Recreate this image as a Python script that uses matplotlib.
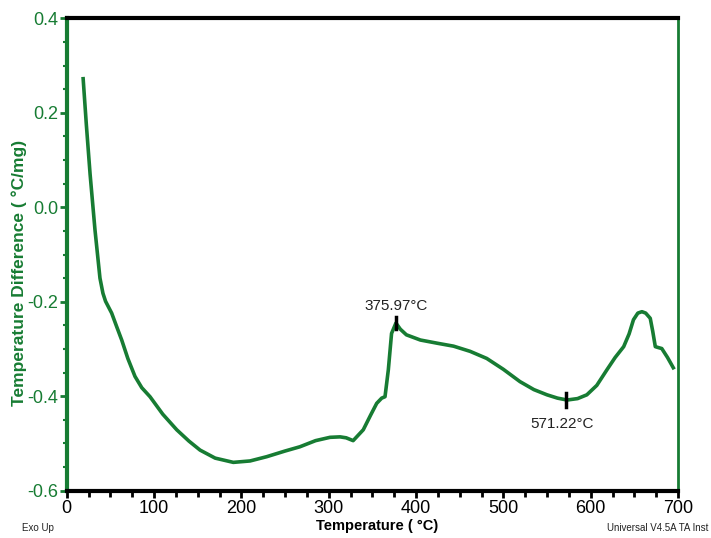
import matplotlib
matplotlib.use("Agg")
import matplotlib.pyplot as plt
from matplotlib.ticker import MultipleLocator, FormatStrFormatter

plt.rcParams['font.family'] = ['Liberation Sans', 'DejaVu Sans']

temperature = [18.7, 22.5, 26.8, 32.4, 38.1, 41.5, 44.5, 51.5, 57.3, 63, 70, 78.2, 86, 95.4,
               110, 126, 140, 152.7, 170, 190.8, 210, 229, 250, 267, 285, 301.5,
               313, 320, 328, 339.6, 348, 355, 360.7, 364.5, 368.3, 372, 377,
               382, 389, 405, 425, 443, 462, 481, 500, 519, 535, 550, 562, 573,
               585, 595.6, 607, 618.6, 628, 637.8, 644, 649, 654, 658.7, 663, 668.2,
               671, 674, 677.5, 681.4, 688, 695.6]
temp_diff = [0.276, 0.175, 0.07, -0.048, -0.150, -0.182, -0.199, -0.224, -0.253, -0.281, -0.320, -0.358,
             -0.382, -0.401, -0.438, -0.471, -0.495, -0.514, -0.531, -0.540, -0.537, -0.528,
             -0.516, -0.507, -0.494, -0.487, -0.486, -0.488, -0.494, -0.471, -0.44, -0.415,
             -0.404, -0.401, -0.344, -0.267, -0.245, -0.258, -0.270, -0.281, -0.288, -0.294,
             -0.305, -0.320, -0.343, -0.369, -0.386, -0.397, -0.404, -0.408, -0.405, -0.397,
             -0.377, -0.344, -0.318, -0.295, -0.268, -0.238, -0.224, -0.221, -0.224, -0.235,
             -0.262, -0.295, -0.297, -0.299, -0.318, -0.343]

peak_temp, peak_val, peak_label = 377, -0.245, "375.97°C"
min_temp, min_val, min_label = 571.22, -0.408, "571.22°C"

green = '#177c33'

fig = plt.figure(figsize=(7.11, 5.38), dpi=100)
ax = fig.add_axes([0.0938, 0.0879, 0.8598, 0.878])

ax.plot(temperature, temp_diff, color=green, lw=2.6, solid_joinstyle='round', solid_capstyle='butt')

# markers at labelled points
ax.plot([peak_temp, peak_temp], [peak_val - 0.013, peak_val + 0.013], color='black', lw=2.5)
ax.plot([min_temp, min_temp], [min_val - 0.015, min_val + 0.015], color='black', lw=2.5)
ax.text(peak_temp, peak_val + 0.035, peak_label, ha='center', va='center', fontsize=11, color='#222222')
ax.text(min_temp - 4, min_val - 0.05, min_label, ha='center', va='center', fontsize=11, color='#222222')

ax.set_xlim(0, 700)
ax.set_ylim(-0.6, 0.4)
ax.xaxis.set_major_locator(MultipleLocator(100))
ax.xaxis.set_minor_locator(MultipleLocator(25))
ax.yaxis.set_major_locator(MultipleLocator(0.2))
ax.yaxis.set_minor_locator(MultipleLocator(0.05))
ax.yaxis.set_major_formatter(FormatStrFormatter('%.1f'))

for side in ['left', 'right']:
    ax.spines[side].set_color(green)
ax.spines['left'].set_linewidth(3)
ax.spines['right'].set_linewidth(2)
ax.spines['top'].set_color('black')
ax.spines['top'].set_linewidth(3)
ax.spines['bottom'].set_color('black')
ax.spines['bottom'].set_linewidth(3)

ax.tick_params(axis='x', which='major', direction='out', length=5, width=2, colors='black',
               labelsize=13, pad=2)
ax.tick_params(axis='x', which='minor', direction='out', length=4, width=2, colors='black')
ax.tick_params(axis='y', which='major', direction='out', length=5, width=2, colors=green,
               labelsize=13, pad=1)
ax.tick_params(axis='y', which='minor', direction='out', length=3, width=1.5, colors=green)

ax.set_xlabel('Temperature ( °C)', fontsize=10.5, fontweight='bold', color='black')
ax.xaxis.set_label_coords(0.507, -0.060)
ax.set_ylabel('Temperature Difference ( °C/mg)', fontsize=12.5, fontweight='bold', color=green)
ax.yaxis.set_label_coords(-0.065, 0.46)

fig.text(0.031, 0.018, 'Exo Up', fontsize=7, color='#222222', ha='left', va='center')
fig.text(0.997, 0.018, 'Universal V4.5A TA Inst', fontsize=7, color='#222222', ha='right', va='center')

fig.savefig('out.png', dpi=100)
